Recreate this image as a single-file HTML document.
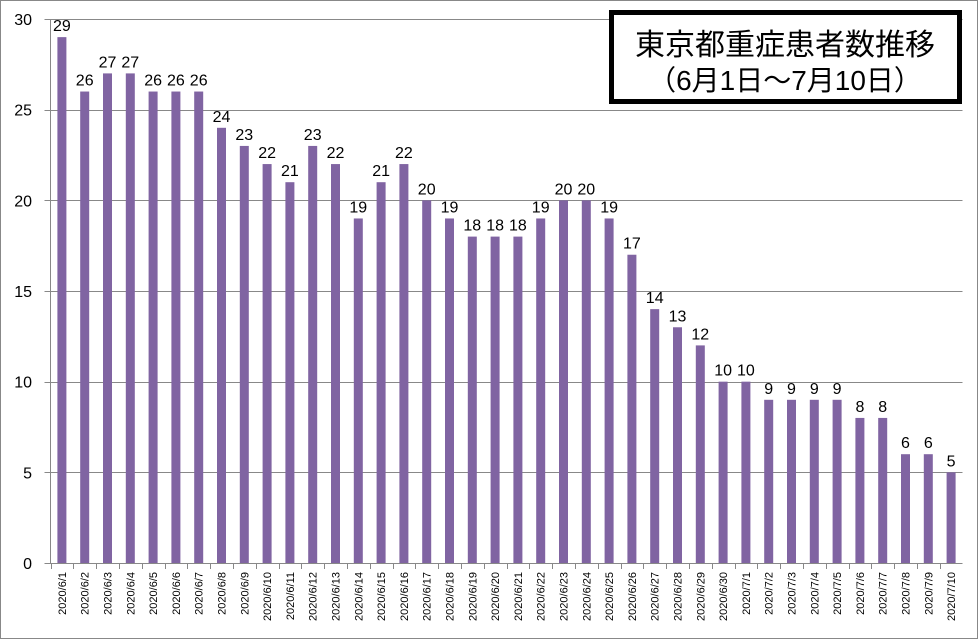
<!DOCTYPE html>
<html><head><meta charset="utf-8"><style>
body{margin:0;background:#fff;}
svg{display:block;font-family:"Liberation Sans","Noto Sans CJK JP",sans-serif;}
</style></head><body>
<svg id="c" width="978" height="639">
<rect x="0.5" y="0.5" width="977" height="638" fill="#fff" stroke="#888"/>
<g id="grid"></g><g id="bars"></g><g id="labels"></g><g id="axes"></g>
<g>
<rect x="611.5" y="12.5" width="348" height="89" fill="#fff" stroke="#000" stroke-width="5"/>
<text x="785" y="55" font-size="30" text-anchor="middle">東京都重症患者数推移</text>
<text x="785" y="90" font-size="28" text-anchor="middle">（6月1日～7月10日）</text>
</g>
</svg>
<script>
const categories=["2020/6/1","2020/6/2","2020/6/3","2020/6/4","2020/6/5","2020/6/6","2020/6/7","2020/6/8","2020/6/9","2020/6/10","2020/6/11","2020/6/12","2020/6/13","2020/6/14","2020/6/15","2020/6/16","2020/6/17","2020/6/18","2020/6/19","2020/6/20","2020/6/21","2020/6/22","2020/6/23","2020/6/24","2020/6/25","2020/6/26","2020/6/27","2020/6/28","2020/6/29","2020/6/30","2020/7/1","2020/7/2","2020/7/3","2020/7/4","2020/7/5","2020/7/6","2020/7/7","2020/7/8","2020/7/9","2020/7/10"];
const values=[29,26,27,27,26,26,26,24,23,22,21,23,22,19,21,22,20,19,18,18,18,19,20,20,19,17,14,13,12,10,10,9,9,9,9,8,8,6,6,5];
const yTicks=[0,5,10,15,20,25,30];
const NS="http://www.w3.org/2000/svg";
const x0=50.5,x1=962.5,y0=563,yTop=19,yMax=30;
const bw=(x1-x0)/categories.length;
const Y=v=>y0-(v/yMax)*(y0-yTop);
const X=i=>x0+bw*(i+0.5);
function mk(t,a,p){const e=document.createElementNS(NS,t);for(const k in a)e.setAttribute(k,a[k]);document.getElementById(p).appendChild(e);return e;}
yTicks.forEach(t=>{
 if(t>0){const g=mk('line',{x1:x0,x2:x1,y1:Math.round(Y(t))+0.5,y2:Math.round(Y(t))+0.5,stroke:'#888'},'grid');
 
 }
 const l=mk('text',{x:32,y:Y(t)+6,'font-size':16,'text-anchor':'end'},'axes');l.textContent=t;
 
 
 const k=mk('line',{x1:x0-6,x2:x0,y1:Math.round(Y(t))+0.5,y2:Math.round(Y(t))+0.5,stroke:'#888'},'axes');
 
 
});
categories.forEach((c,i)=>{
 const v=values[i];
 const r=mk('rect',{x:X(i)-4.5,y:Y(v),width:9,height:y0-Y(v),fill:'#8064a2'},'bars');
 
 
 const t=mk('text',{x:X(i),y:Y(v)-6,'font-size':16,'text-anchor':'middle'},'labels');t.textContent=v;
 
 
 const xl=mk('text',{x:0,y:0,'font-size':11,'text-anchor':'end',transform:`translate(${X(i)+4},572) rotate(-90)`},'axes');xl.textContent=c;
 
 
 const k=mk('line',{x1:Math.round(x0+bw*i)+0.5,x2:Math.round(x0+bw*i)+0.5,y1:y0,y2:y0+6,stroke:'#888'},'axes');
 
 
});
const ya=mk('line',{x1:x0,x2:x0,y1:yTop,y2:y0,stroke:'#888'},'axes');


const xa=mk('line',{x1:x0,x2:x1,y1:y0+0.5,y2:y0+0.5,stroke:'#888'},'axes');


</script>
</body></html>
